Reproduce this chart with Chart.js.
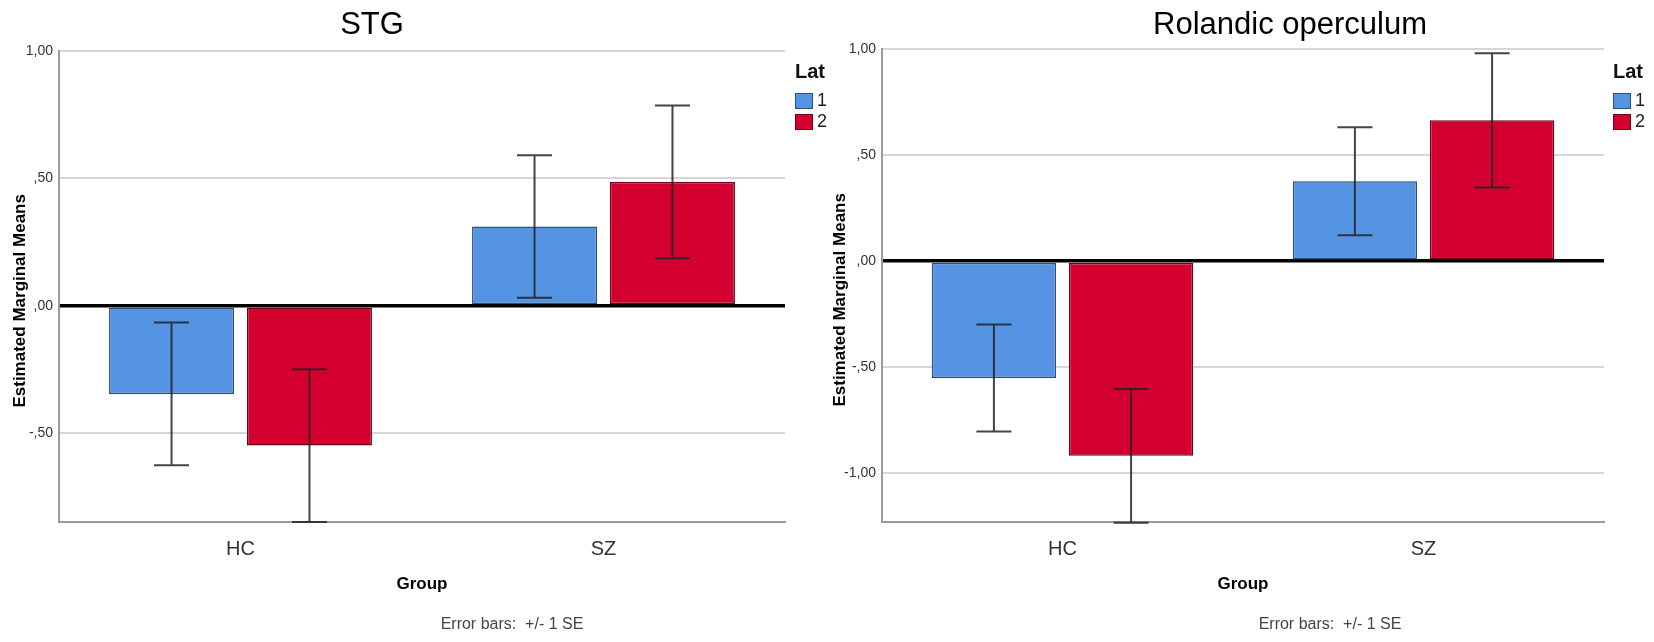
<!DOCTYPE html>
<html>
<head>
<meta charset="utf-8">
<title>Estimated Marginal Means</title>
<script src="https://cdn.jsdelivr.net/npm/chart.js@4.4.1/dist/chart.umd.min.js"></script>
<style>
  body { margin: 0; background: #fff; width: 1654px; height: 642px; position: relative; overflow: hidden;
         font-family: "Liberation Sans", Arial, sans-serif; }
  canvas { position: absolute; top: 0; }
  #c1 { left: 0; }
  #c2 { left: 823px; }
  .txt { position: absolute; line-height: 1; white-space: nowrap; transform: translate(-50%, -50%); }
  .title { font-size: 31px; color: #000; }
  .note { font-size: 16px; color: #444; }
  .legend { position: absolute; top: 60px; }
  .legend .head { font-size: 20px; font-weight: bold; color: #111; height: 22px; margin-bottom: 8px; }
  .legend .item { display: flex; align-items: center; height: 21px; font-size: 18px; color: #222; }
  .legend .box { width: 16px; height: 14px; margin-right: 4px; border: 1px solid; }
</style>
</head>
<body>
<canvas id="c1" width="796" height="642"></canvas>
<canvas id="c2" width="831" height="642"></canvas>

<div class="txt title" style="left:372px; top:23px">STG</div>
<div class="txt title" style="left:1290px; top:23px">Rolandic operculum</div>
<div class="txt note" style="left:512px; top:624px">Error bars:&nbsp; +/- 1 SE</div>
<div class="txt note" style="left:1330px; top:624px">Error bars:&nbsp; +/- 1 SE</div>
<div class="legend" id="leg1" style="left:795px"></div>
<div class="legend" id="leg2" style="left:1613px"></div>

<script>
// data
const groups = ['HC', 'SZ'];
const latLabels = ['1', '2'];
const latColors = ['#5594e3', '#d3002f'];
const latBorders = ['#2b4f7e', '#6e0018'];

// STG
const stgLat1 = [-0.346, 0.311];
const stgLat1Se = [0.28, 0.28];
const stgLat2 = [-0.549, 0.486];
const stgLat2Se = [0.30, 0.30];
const stgTicks = [1, 0.5, 0, -0.5];
const stgTickText = ['1,00', ',50', ',00', '-,50'];

// Rolandic operculum
const rolLat1 = [-0.55, 0.377];
const rolLat1Se = [0.252, 0.254];
const rolLat2 = [-0.917, 0.664];
const rolLat2Se = [0.315, 0.316];
const rolTicks = [1, 0.5, 0, -0.5, -1];
const rolTickText = ['1,00', ',50', ',00', '-,50', '-1,00'];

Chart.defaults.font.family = '"Liberation Sans", Arial, sans-serif';

// +/- 1 SE whiskers, drawn on top of the bars
const errorBars = {
  id: 'errorBars',
  afterDatasetsDraw(chart) {
    const { ctx, chartArea } = chart;
    const y = chart.scales.y;
    ctx.save();
    ctx.beginPath();
    ctx.rect(chartArea.left, chartArea.top - 3, chartArea.width, chartArea.height + 6);
    ctx.clip();
    ctx.strokeStyle = 'rgba(35,35,35,0.85)';
    ctx.lineWidth = 2;
    chart.data.datasets.forEach((ds, i) => {
      chart.getDatasetMeta(i).data.forEach((bar, j) => {
        const hi = y.getPixelForValue(ds.data[j] + ds.se[j]);
        const lo = y.getPixelForValue(ds.data[j] - ds.se[j]);
        const x = bar.x, cap = 17.5;
        ctx.beginPath();
        ctx.moveTo(x, hi); ctx.lineTo(x, lo);
        ctx.moveTo(x - cap, hi); ctx.lineTo(x + cap, hi);
        ctx.moveTo(x - cap, lo); ctx.lineTo(x + cap, lo);
        ctx.stroke();
      });
    });
    ctx.restore();
  }
};

function makeChart(id, lat1, se1, lat2, se2, yMin, ticks, tickText, pad, titlePad) {
  return new Chart(document.getElementById(id), {
    type: 'bar',
    data: {
      labels: groups,
      datasets: [
        { label: latLabels[0], data: lat1, se: se1, backgroundColor: latColors[0], borderColor: latBorders[0] },
        { label: latLabels[1], data: lat2, se: se2, backgroundColor: latColors[1], borderColor: latBorders[1] }
      ]
    },
    options: {
      responsive: false,
      animation: false,
      layout: { padding: pad },
      datasets: { bar: { categoryPercentage: 0.76, barPercentage: 0.906, borderWidth: 1.5, borderSkipped: false } },
      plugins: { legend: { display: false }, tooltip: { enabled: false } },
      scales: {
        x: {
          grid: { display: false, drawTicks: false },
          border: { display: true, color: '#9a9a9a', width: 2 },
          ticks: { color: '#333', font: { size: 20 }, padding: 15 },
          title: { display: true, text: 'Group', color: '#000', font: { size: 17, weight: 'bold' },
                   padding: { top: 0, bottom: 5 } },
          afterFit: s => { s.height = 77.7; }
        },
        y: {
          min: yMin,
          max: 1,
          afterBuildTicks: s => { s.ticks = ticks.map(v => ({ value: v })); },
          grid: {
            drawTicks: false,
            color: c => (c.tick && c.tick.value === 0 ? '#000' : '#d6d6d6'),
            lineWidth: c => (c.tick && c.tick.value === 0 ? 3.5 : 2)
          },
          border: { display: true, color: '#9a9a9a', width: 2 },
          ticks: { color: '#333', font: { size: 14 }, padding: 6, callback: v => tickText[ticks.indexOf(v)] },
          title: { display: true, text: 'Estimated Marginal Means      ', color: '#000',
                   font: { size: 17, weight: 'bold' }, padding: { top: titlePad, bottom: 0 } },
          afterFit: s => { s.width = 59; }
        }
      }
    },
    plugins: [errorBars]
  });
}

function makeLegend(id, chart) {
  const el = document.getElementById(id);
  el.innerHTML = '<div class="head">Lat</div>';
  chart.data.datasets.forEach(ds => {
    el.innerHTML += '<div class="item"><span class="box" style="background:' + ds.backgroundColor +
      ';border-color:' + ds.borderColor + '"></span>' + ds.label + '</div>';
  });
}

const stg = makeChart('c1', stgLat1, stgLat1Se, stgLat2, stgLat2Se, -0.85, stgTicks, stgTickText,
  { top: 51, right: 11, bottom: 42, left: 0 }, 10);
const rol = makeChart('c2', rolLat1, rolLat1Se, rolLat2, rolLat2Se, -1.23, rolTicks, rolTickText,
  { top: 49, right: 50, bottom: 42, left: 0 }, 7);

makeLegend('leg1', stg);
makeLegend('leg2', rol);
</script>
</body>
</html>
